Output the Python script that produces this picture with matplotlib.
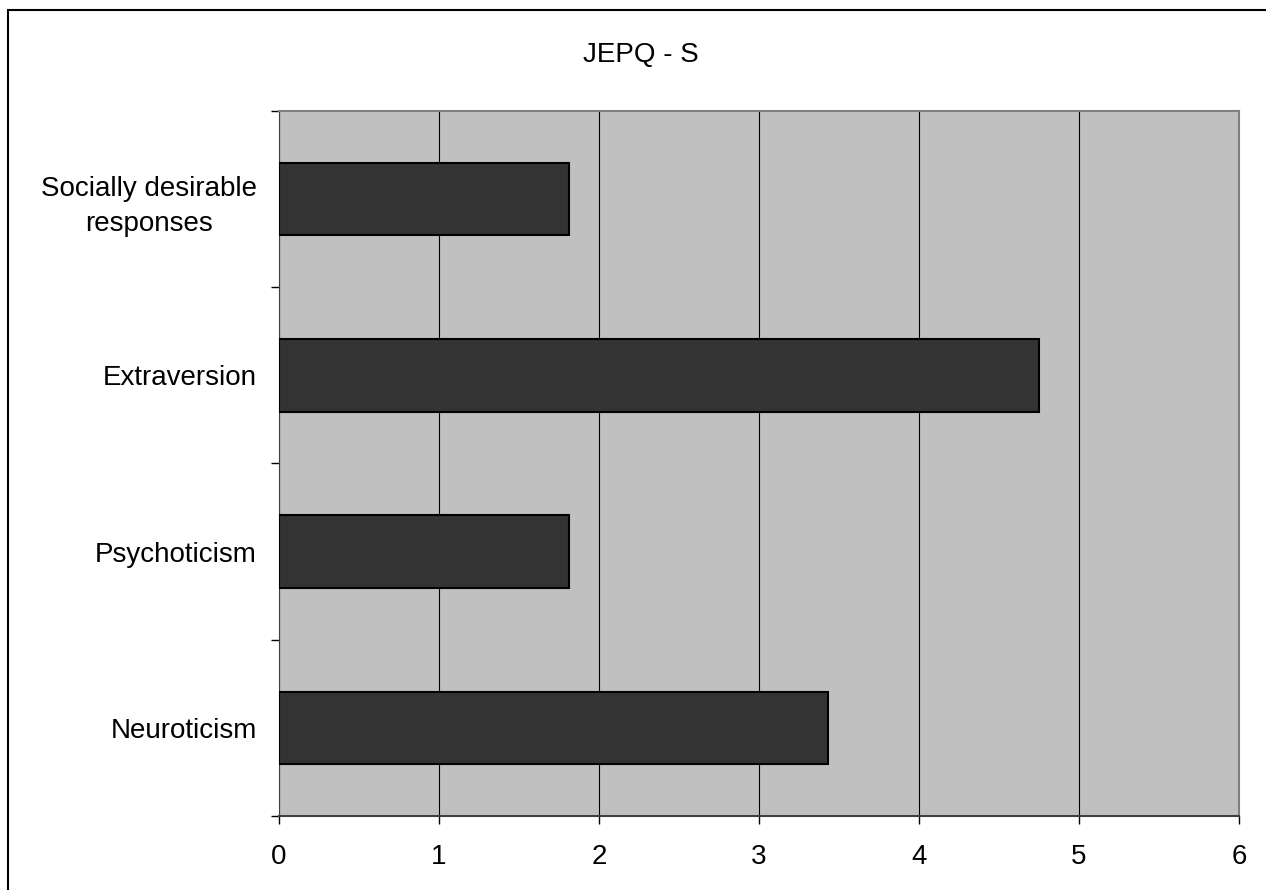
import matplotlib.pyplot as plt
from matplotlib.patches import Rectangle

# JEPQ-S scale scores, listed bottom to top
scales = ["Neuroticism", "Psychoticism", "Extraversion", "Socially desirable\nresponses"]
scores = [3.43, 1.81, 4.75, 1.81]
x_ticks = [0, 1, 2, 3, 4, 5, 6]

plt.rcParams["font.family"] = ["Liberation Sans", "DejaVu Sans"]

W, H = 1266, 890
fig = plt.figure(figsize=(W / 100, H / 100), dpi=100)
ax = fig.add_axes([279 / W, 1 - 816 / H, (1239 - 279) / W, (816 - 111) / H])
ax.set_facecolor("#c0c0c0")

ypos = list(range(len(scales)))
ax.barh(ypos, scores, height=0.41, color="#333333", edgecolor="black", linewidth=1.5, zorder=3)

ax.set_xlim(0, 6)
ax.set_ylim(-0.5, len(scales) - 0.5)
ax.set_xticks(x_ticks)
ax.set_xticklabels([str(t) for t in x_ticks], fontsize=20)
ax.xaxis.grid(True, color="black", linewidth=0.8, zorder=1)
ax.set_axisbelow(True)

# category labels sit between the tick marks, which mark the boundaries
ax.set_yticks([p - 0.5 for p in ypos] + [len(scales) - 0.5])
ax.set_yticklabels([])
ax.set_yticks(ypos, minor=True)
ax.set_yticklabels(scales, minor=True, fontsize=20, multialignment="center", linespacing=1.45)
ax.tick_params(axis="y", which="minor", length=0, pad=16)
ax.tick_params(axis="y", which="major", length=6, width=1, direction="out")
ax.tick_params(axis="x", length=6, width=1, direction="out", pad=14)

ax.spines["top"].set_color("#808080")
ax.spines["right"].set_color("#808080")
ax.spines["top"].set_linewidth(1.5)
ax.spines["right"].set_linewidth(1.5)
ax.spines["left"].set_color("#404040")
ax.spines["bottom"].set_color("#404040")
ax.spines["bottom"].set_linewidth(1.5)

fig.text(641 / W, 1 - 55 / H, "JEPQ - S", ha="center", va="center", fontsize=20)

# outer chart frame, open on the right and bottom edges
fig.patches.append(Rectangle((8 / W, -0.1), 1.2, 1.1 - 10 / H, transform=fig.transFigure,
                             fill=False, edgecolor="black", linewidth=1.5))

fig.savefig("out.png", dpi=100)
